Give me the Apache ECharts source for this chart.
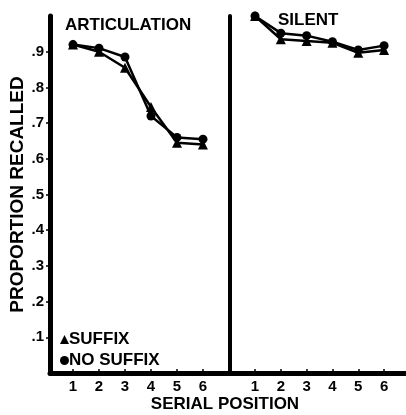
<!DOCTYPE html>
<html>
<head>
<meta charset="utf-8">
<script src="https://cdn.jsdelivr.net/npm/echarts@6/dist/echarts.min.js"></script>
<style>html,body{margin:0;padding:0;background:#fff}#c{width:406px;height:415px}</style>
</head>
<body>
<div id="c"></div>
<script>
const positions = [1, 2, 3, 4, 5, 6];
const yTickValues = [0.1, 0.2, 0.3, 0.4, 0.5, 0.6, 0.7, 0.8, 0.9];
const panelTitles = ['ARTICULATION', 'SILENT'];
const seriesNames = ['SUFFIX', 'NO SUFFIX'];
const articulationSuffix = [0.92, 0.90, 0.855, 0.745, 0.645, 0.64];
const articulationNoSuffix = [0.92, 0.91, 0.885, 0.72, 0.66, 0.655];
const silentSuffix = [1.0, 0.935, 0.93, 0.925, 0.897, 0.905];
const silentNoSuffix = [1.0, 0.952, 0.945, 0.928, 0.905, 0.917];

const FONT = '"Liberation Sans", Arial, Helvetica, sans-serif';
const toPairs = arr => positions.map((p, i) => [p, arr[i]]);

const chart = echarts.init(document.getElementById('c'), null, {renderer: 'canvas'});

function xAxisCfg(idx, min, max) {
  return {
    type: 'value', gridIndex: idx, min: min, max: max,
    axisLine: {show: true, onZero: false, lineStyle: {color: '#000', width: 5}},
    axisTick: {show: true, inside: true, length: 4, customValues: positions, lineStyle: {color: '#000', width: 1.5}},
    axisLabel: {show: true, customValues: positions, margin: 6, color: '#000', fontFamily: FONT, fontWeight: 'bold', fontSize: 15},
    splitLine: {show: false}
  };
}
function yAxisCfg(idx, labels) {
  return {
    type: 'value', gridIndex: idx, min: 0, max: 1.0,
    name: labels ? 'PROPORTION RECALLED' : '',
    nameLocation: 'middle', nameGap: 21, nameRotate: 90,
    nameTextStyle: {color: '#000', fontFamily: FONT, fontWeight: 'bold', fontSize: 19},
    axisLine: {show: true, lineStyle: {color: '#000', width: labels ? 5 : 4}},
    axisTick: {show: labels, length: 4, customValues: yTickValues, lineStyle: {color: '#000', width: 1.5}},
    axisLabel: {show: labels, customValues: yTickValues, margin: 6, color: '#000', fontFamily: FONT, fontWeight: 'bold', fontSize: 15,
      formatter: v => '.' + Math.round(v * 10)},
    splitLine: {show: false}
  };
}
function lineSeries(name, data, idx, symbol) {
  return {
    type: 'line', name: name, xAxisIndex: idx, yAxisIndex: idx, data: toPairs(data),
    symbol: symbol, symbolSize: symbol === 'circle' ? 9 : 10, clip: false,
    lineStyle: {color: '#000', width: 2.5}, itemStyle: {color: '#000'},
    emphasis: {disabled: true}, animation: false
  };
}

chart.setOption({
  animation: false,
  backgroundColor: '#fff',
  grid: [
    {left: 50, top: 16, width: 180, height: 357},
    {left: 230, top: 16, width: 176, height: 357}
  ],
  xAxis: [xAxisCfg(0, 0.115, 7.04), xAxisCfg(1, 0.03, 6.85)],
  yAxis: [yAxisCfg(0, true), yAxisCfg(1, false)],
  legend: {
    orient: 'vertical', left: 55, top: 326, itemGap: 4, itemWidth: 9, itemHeight: 9,
    selectedMode: false,
    textStyle: {color: '#000', fontFamily: FONT, fontWeight: 'bold', fontSize: 17, padding: [0, 0, 0, -5]},
    data: [{name: seriesNames[0], icon: 'triangle'}, {name: seriesNames[1], icon: 'circle'}]
  },
  series: [
    lineSeries(seriesNames[0], articulationSuffix, 0, 'triangle'),
    lineSeries(seriesNames[1], articulationNoSuffix, 0, 'circle'),
    lineSeries(seriesNames[0], silentSuffix, 1, 'triangle'),
    lineSeries(seriesNames[1], silentNoSuffix, 1, 'circle')
  ],
  graphic: [
    {type: 'text', x: 65, y: 25, style: {text: panelTitles[0], fill: '#000', font: 'bold 17px ' + FONT, align: 'left', verticalAlign: 'middle'}},
    {type: 'text', x: 278, y: 20, style: {text: panelTitles[1], fill: '#000', font: 'bold 17px ' + FONT, align: 'left', verticalAlign: 'middle'}},
    {type: 'text', x: 225, y: 404, style: {text: 'SERIAL POSITION', fill: '#000', font: 'bold 17px ' + FONT, align: 'center', verticalAlign: 'middle'}}
  ]
});
</script>
</body>
</html>
